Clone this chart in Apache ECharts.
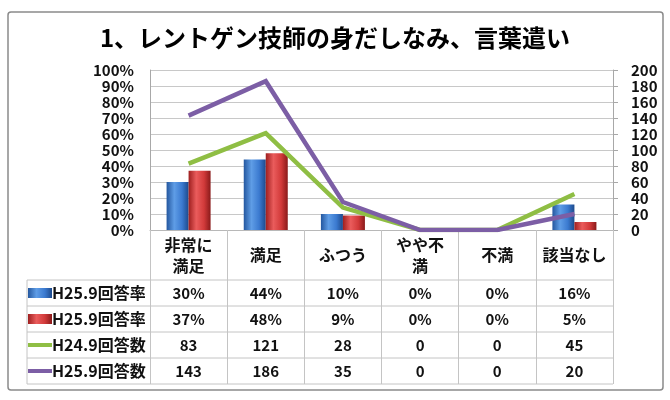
<!DOCTYPE html>
<html>
<head>
<meta charset="utf-8">
<script src="https://cdn.jsdelivr.net/npm/echarts@6/dist/echarts.min.js"></script>
<style>
html,body{margin:0;padding:0;background:#fff;}
#c{width:670px;height:400px;}
</style>
</head>
<body>
<div id="c"></div>
<script>
const titleText = '1、レントゲン技師の身だしなみ、言葉遣い';
const categories = ['非常に\n満足', '満足', 'ふつう', 'やや不\n満', '不満', '該当なし'];
const rowLabels = ['H25.9回答率', 'H25.9回答率', 'H24.9回答数', 'H25.9回答数'];
const rateBlue = [30, 44, 10, 0, 0, 16];
const rateRed = [37, 48, 9, 0, 0, 5];
const countGreen = [83, 121, 28, 0, 0, 45];
const countPurple = [143, 186, 35, 0, 0, 20];
const leftAxis = {min: 0, max: 100, interval: 10};
const rightAxis = {min: 0, max: 200, interval: 20};

const FONT = '"Noto Sans CJK JP", "Noto Sans", sans-serif';
const chart = echarts.init(document.getElementById('c'), null, {renderer: 'canvas'});

const blueGrad = new echarts.graphic.LinearGradient(0, 0, 1, 0, [
  {offset: 0, color: '#24579f'}, {offset: 0.35, color: '#5f9de6'}, {offset: 0.7, color: '#3b7ad0'}, {offset: 1, color: '#1d4a8c'}
]);
const redGrad = new echarts.graphic.LinearGradient(0, 0, 1, 0, [
  {offset: 0, color: '#9e1f1f'}, {offset: 0.35, color: '#ea5c5c'}, {offset: 0.7, color: '#d23a3a'}, {offset: 1, color: '#8a1a1a'}
]);
const seriesIds = ['s0', 's1', 's2', 's3'];
const rowsData = [rateBlue, rateRed, countGreen, countPurple];
const rowIsPct = [true, true, false, false];
const rowCenters = [293, 319, 345, 371];
const plotBottom = 230;

const valueAxes = rowsData.map((arr, r) => ({
  type: 'category', gridIndex: 0, position: 'bottom', data: categories,
  axisLine: {show: false}, axisTick: {show: false}, splitLine: {show: false},
  axisLabel: {
    interval: 0, margin: rowCenters[r] - plotBottom, verticalAlign: 'middle',
    fontFamily: FONT, fontWeight: 'bold', fontSize: 15, color: '#111',
    formatter: (v, i) => rowIsPct[r] ? arr[i] + '%' : String(arr[i])
  }
}));

const legendIconH = [10, 10, 4, 4];
const legends = seriesIds.map((id, r) => ({
  data: [{name: id, icon: 'rect'}], orient: 'horizontal', left: 28, top: rowCenters[r] - 10, padding: 0,
  itemWidth: 24, itemHeight: legendIconH[r], itemGap: 0,
  formatter: () => rowLabels[r],
  textStyle: {fontFamily: FONT, fontWeight: 'bold', fontSize: 16, color: '#111', lineHeight: 20, padding: [0, 0, 0, -5]},
  selectedMode: false
}));

const option = {
  animation: false,
  backgroundColor: '#fff',
  title: {
    text: titleText, left: 'center', top: 24, padding: 0,
    textStyle: {fontFamily: FONT, fontWeight: 'bold', fontSize: 24, color: '#000', lineHeight: 28}
  },
  legend: legends,
  grid: {left: 150, right: 57, top: 70, bottom: 170, containLabel: false},
  xAxis: [{
    type: 'category', gridIndex: 0, position: 'bottom', data: categories,
    axisLine: {show: true, lineStyle: {color: '#b8b8b8', width: 1}},
    axisTick: {show: true, length: 154, lineStyle: {color: '#c4c4c4', width: 1}},
    splitLine: {show: false},
    axisLabel: {
      interval: 0, margin: 25, verticalAlign: 'middle', lineHeight: 21,
      fontFamily: FONT, fontWeight: 'bold', fontSize: 16, color: '#111'
    }
  }].concat(valueAxes),
  yAxis: [{
    type: 'value', min: leftAxis.min, max: leftAxis.max, interval: leftAxis.interval, position: 'left',
    axisLine: {show: true, lineStyle: {color: '#a8a8a8'}},
    axisTick: {show: false},
    splitLine: {show: true, lineStyle: {color: '#c8c8c8', width: 1}},
    axisLabel: {formatter: '{value}%', margin: 16, fontFamily: FONT, fontWeight: 'bold', fontSize: 15, color: '#111'}
  }, {
    type: 'value', min: rightAxis.min, max: rightAxis.max, interval: rightAxis.interval, position: 'right',
    axisLine: {show: true, lineStyle: {color: '#a8a8a8'}},
    axisTick: {show: true, inside: false, length: 5, lineStyle: {color: '#a8a8a8'}},
    splitLine: {show: false},
    axisLabel: {margin: 18, fontFamily: FONT, fontWeight: 'bold', fontSize: 15, color: '#111'}
  }],
  series: [{
    id: 's0', name: 's0', type: 'bar', xAxisIndex: 0, yAxisIndex: 0, data: rateBlue,
    barWidth: 22, barGap: '0%', z: 2,
    itemStyle: {color: blueGrad, borderWidth: 0}
  }, {
    id: 's1', name: 's1', type: 'bar', xAxisIndex: 0, yAxisIndex: 0, data: rateRed,
    barWidth: 22, barGap: '0%', z: 2,
    itemStyle: {color: redGrad, borderWidth: 0}
  }, {
    id: 's2', name: 's2', type: 'line', xAxisIndex: 0, yAxisIndex: 1, data: countGreen,
    symbol: 'none', z: 4, color: '#8fbe44',
    lineStyle: {color: '#8fbe44', width: 4.5, cap: 'butt', join: 'miter'}
  }, {
    id: 's3', name: 's3', type: 'line', xAxisIndex: 0, yAxisIndex: 1, data: countPurple,
    symbol: 'none', z: 5, color: '#7c5ea5',
    lineStyle: {color: '#7c5ea5', width: 4.5, cap: 'butt', join: 'miter'}
  }]
};
chart.setOption(option);

// Table lines derived from the category axis layout
const x0 = chart.convertToPixel({xAxisIndex: 0}, categories[0]);
const x1 = chart.convertToPixel({xAxisIndex: 0}, categories[1]);
const band = x1 - x0;
const tableRight = chart.convertToPixel({xAxisIndex: 0}, categories[categories.length - 1]) + band / 2;
const tableLeft = 27;
const rowLines = [280, 306, 332, 358, 384];
const g = rowLines.map(y => ({
  type: 'line', shape: {x1: tableLeft, y1: y, x2: tableRight, y2: y},
  style: {stroke: '#c4c4c4', lineWidth: 1}, silent: true, z: 1
}));
g.push({type: 'line', shape: {x1: tableLeft, y1: rowLines[0], x2: tableLeft, y2: rowLines[rowLines.length - 1]},
  style: {stroke: '#c4c4c4', lineWidth: 1}, silent: true, z: 1});
g.push({type: 'rect', shape: {x: 8, y: 12, width: 655, height: 378, r: 3},
  style: {fill: 'none', stroke: '#8a8a8a', lineWidth: 1.5}, silent: true, z: 0});
chart.setOption({graphic: g});
</script>
</body>
</html>
